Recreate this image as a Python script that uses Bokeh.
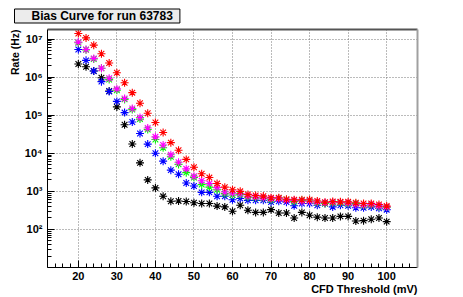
from bokeh.plotting import figure
from bokeh.models import Range1d, FixedTicker, LinearAxis, Title
from bokeh.embed import file_html
from bokeh.resources import INLINE

# ---- data ----
threshold = list(range(20, 101, 2))

rate_red = [1.4e7, 1.07e7, 6.9e6, 4.1e6, 2.35e6, 1.3e6, 7.1e5, 3.9e5, 2.05e5, 1.12e5,
            6.4e4, 3.5e4, 1.9e4, 1.2e4, 6.9e3, 4.3e3, 2.9e3, 2.3e3, 1.6e3, 1.29e3,
            1.1e3, 1.0e3, 8.3e2, 7.8e2, 7.5e2, 6.8e2, 6.8e2, 6.2e2, 6.0e2, 6.0e2,
            6.0e2, 5.6e2, 5.2e2, 5.4e2, 5.3e2, 5.3e2, 5.0e2, 4.8e2, 4.8e2, 4.5e2, 4.1e2]
rate_magenta = [8.3e6, 5.3e6, 3.1e6, 1.7e6, 9.3e5, 4.9e5, 2.75e5, 1.5e5, 8.7e4, 4.6e4,
                2.7e4, 1.65e4, 9.1e3, 5.8e3, 3.9e3, 2.5e3, 1.9e3, 1.6e3, 1.25e3, 9.6e2,
                8.9e2, 8.7e2, 7.4e2, 7.1e2, 6.8e2, 6.4e2, 6.4e2, 5.8e2, 5.8e2, 5.5e2,
                5.5e2, 5.2e2, 5.0e2, 5.2e2, 5.2e2, 4.9e2, 4.5e2, 4.3e2, 4.5e2, 4.1e2, 3.9e2]
rate_green = [8.0e6, 5.2e6, 3.0e6, 1.7e6, 8.6e5, 4.5e5, 2.6e5, 1.4e5, 7.9e4, 4.2e4,
              2.3e4, 1.4e4, 8.1e3, 5.1e3, 3.1e3, 2.3e3, 1.5e3, 1.29e3, 1.1e3, 8.7e2,
              8.0e2, 8.2e2, 7.0e2, 6.8e2, 6.6e2, 6.0e2, 6.6e2, 6.0e2, 5.4e2, 5.8e2,
              5.6e2, 5.0e2, 4.8e2, 5.0e2, 5.0e2, 4.7e2, 4.8e2, 4.2e2, 4.4e2, 4.0e2, 3.8e2]
rate_blue = [5.3e6, 2.75e6, 1.44e6, 7.6e5, 4.2e5, 2.3e5, 1.17e5, 6.6e4, 3.3e4, 1.74e4,
             1.0e4, 6.2e3, 3.6e3, 2.8e3, 1.66e3, 1.38e3, 9.4e2, 9.4e2, 7.4e2, 7.4e2,
             6.0e2, 6.5e2, 5.8e2, 5.8e2, 5.8e2, 5.2e2, 5.5e2, 5.2e2, 4.2e2, 4.8e2,
             4.8e2, 4.3e2, 4.8e2, 3.9e2, 4.3e2, 4.2e2, 3.7e2, 3.7e2, 3.9e2, 3.6e2, 3.3e2]
rate_black = [2.2e6, 1.87e6, 1.44e6, 9.6e5, 4.3e5, 1.65e5, 5.6e4, 1.75e4, 5.6e3, 2.0e3,
              1.23e3, 7.4e2, 5.5e2, 5.6e2, 5.4e2, 5.0e2, 4.8e2, 4.8e2, 4.1e2, 3.9e2,
              3.0e2, 4.3e2, 3.2e2, 2.8e2, 2.8e2, 3.3e2, 2.7e2, 2.7e2, 2.0e2, 2.8e2,
              2.35e2, 2.1e2, 2.0e2, 2.0e2, 2.2e2, 2.2e2, 1.66e2, 1.7e2, 1.85e2, 2.0e2, 1.6e2]

series = [(rate_black, "#000000"), (rate_blue, "#0000ff"), (rate_green, "#00ff00"),
          (rate_magenta, "#ff00ff"), (rate_red, "#ff0000")]

x_major = [20, 30, 40, 50, 60, 70, 80, 90, 100]
x_minor = [v for v in range(14, 107, 2) if v % 10 != 0]
y_major = [10 ** n for n in range(1, 8)]
y_minor = [k * 10 ** n for n in range(1, 8) for k in range(2, 10)]
sup = {2: "\u00b2", 3: "\u00b3", 4: "\u2074", 5: "\u2075", 6: "\u2076", 7: "\u2077"}
y_labels = {10 ** n: ("10" + sup[n] if n in sup else "") for n in range(1, 8)}

title_text = "Bias Curve for run 63783"
x_title = "CFD Threshold (mV)"
y_title = "Rate (Hz)"

FONT = "Liberation Sans"
W, H = 460, 295

p = figure(width=W, height=H, x_range=Range1d(12, 108), y_range=Range1d(10, 10 ** 7.25),
           y_axis_type="log", output_backend="svg", toolbar_location=None, title=None,
           min_border_left=47, min_border_right=43, min_border_top=28, min_border_bottom=28,
           background_fill_color="white", border_fill_color="white")
p.outline_line_color = None

# axes
p.xaxis.ticker = FixedTicker(ticks=x_major, minor_ticks=x_minor)
p.yaxis.ticker = FixedTicker(ticks=y_major, minor_ticks=y_minor)
p.xgrid.ticker = FixedTicker(ticks=x_major)
p.ygrid.ticker = FixedTicker(ticks=y_major)
p.yaxis.major_label_overrides = y_labels

for ax in (p.xaxis[0], p.yaxis[0]):
    ax.axis_line_color = "black"
    ax.axis_line_width = 1
    ax.major_tick_out = 0
    ax.major_tick_in = 7
    ax.minor_tick_out = 0
    ax.minor_tick_in = 4
    ax.major_tick_line_color = "black"
    ax.minor_tick_line_color = "black"
    ax.major_label_text_font = FONT
    ax.major_label_text_font_style = "bold"
    ax.major_label_text_color = "black"
p.xaxis.major_label_text_font_size = "11px"
p.xaxis.major_label_standoff = 4
p.yaxis.major_label_text_font_size = "11px"
p.yaxis.major_label_standoff = 5

p.grid.grid_line_color = "#777777"
p.grid.grid_line_dash = "1 2"
p.grid.grid_line_width = 1

# frame top / right edges
top_ax = LinearAxis(ticker=FixedTicker(ticks=[]), axis_line_color="#555555", axis_line_width=2,
                    major_tick_in=0, major_tick_out=0, minor_tick_in=0, minor_tick_out=0)
right_ax = LinearAxis(ticker=FixedTicker(ticks=[]), axis_line_color="#a0a0a0", axis_line_width=2,
                      major_tick_in=0, major_tick_out=0, minor_tick_in=0, minor_tick_out=0)
p.add_layout(top_ax, "above")
p.add_layout(right_ax, "right")

# data
for ys, c in series:
    p.scatter(threshold, ys, marker="asterisk", size=8, line_color=c, line_width=1.1)

# titles as side-panel titles
xt = Title(text=x_title, align="right", standoff=0, offset=0, text_font=FONT,
           text_font_style="bold", text_font_size="11px", text_color="black")
try:
    xt.standoff = -3
except Exception:
    pass
p.add_layout(xt, "below")
p.add_layout(Title(text=y_title, align="right", standoff=2, offset=0, text_font=FONT,
                   text_font_style="bold", text_font_size="10.5px", text_color="black"), "left")
p.add_layout(Title(text=title_text, align="left", standoff=13, offset=-33, text_font=FONT,
                   text_font_style="bold", text_font_size="12px", text_color="black",
                   background_fill_color="#ececec", border_line_color="black",
                   padding=dict(left=17, right=7, top=0, bottom=0)), "above")

open("out.html", "w").write(file_html(p, INLINE))
